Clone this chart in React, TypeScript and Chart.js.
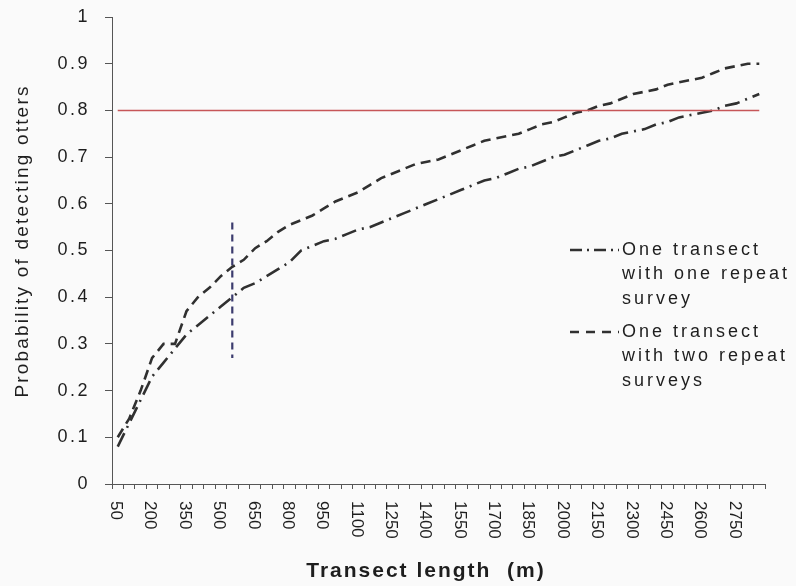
import React, { useEffect, useRef } from 'react';
import { Chart, registerables } from 'chart.js';

Chart.register(...registerables);

// Transect lengths (m) – categories
const lengths = [
  '50', '100', '150', '200', '250', '300', '350', '400', '450', '500',
  '550', '600', '650', '700', '750', '800', '850', '900', '950', '1000',
  '1050', '1100', '1150', '1200', '1250', '1300', '1350', '1400', '1450', '1500',
  '1550', '1600', '1650', '1700', '1750', '1800', '1850', '1900', '1950', '2000',
  '2050', '2100', '2150', '2200', '2250', '2300', '2350', '2400', '2450', '2500',
  '2550', '2600', '2650', '2700', '2750', '2800', '2850',
];

// One transect with one repeat survey (dash-dot)
const oneRepeat = [
  0.08, 0.13, 0.18, 0.23, 0.26, 0.29, 0.32, 0.34, 0.36, 0.38,
  0.40, 0.42, 0.43, 0.445, 0.46, 0.475, 0.50, 0.51, 0.52, 0.525,
  0.535, 0.545, 0.55, 0.56, 0.57, 0.58, 0.59, 0.60, 0.61, 0.62,
  0.63, 0.64, 0.65, 0.655, 0.665, 0.675, 0.68, 0.69, 0.70, 0.705,
  0.715, 0.725, 0.735, 0.74, 0.75, 0.755, 0.76, 0.77, 0.775, 0.785,
  0.79, 0.795, 0.80, 0.81, 0.815, 0.825, 0.835,
];

// One transect with two repeat surveys (dashed)
const twoRepeats = [
  0.10, 0.14, 0.20, 0.27, 0.30, 0.30, 0.37, 0.40, 0.42, 0.445,
  0.465, 0.48, 0.505, 0.52, 0.54, 0.555, 0.565, 0.575, 0.59, 0.605,
  0.615, 0.625, 0.64, 0.655, 0.665, 0.675, 0.685, 0.69, 0.695, 0.705,
  0.715, 0.725, 0.735, 0.74, 0.745, 0.75, 0.76, 0.77, 0.775, 0.785,
  0.795, 0.80, 0.81, 0.815, 0.825, 0.835, 0.84, 0.845, 0.855, 0.86,
  0.865, 0.87, 0.88, 0.89, 0.895, 0.90, 0.90,
];

const threshold = 0.8;
const markerLength = '550';
const markerRange = [0.27, 0.56];

const xTickLabels = [
  '50', '200', '350', '500', '650', '800', '950', '1100', '1250', '1400',
  '1550', '1700', '1850', '2000', '2150', '2300', '2450', '2600', '2750',
];
const yTickLabels = ['0', '0.1', '0.2', '0.3', '0.4', '0.5', '0.6', '0.7', '0.8', '0.9', '1'];

const xTitle = 'Transect length  (m)';
const yTitle = 'Probability of detecting otters';
const legendOne = ['One transect', 'with one repeat', 'survey'];
const legendTwo = ['One transect', 'with two repeat', 'surveys'];

const DASH_DOT = [15, 6, 2, 6];
const DASHED = [10, 6];
const LINE_COLOR = '#303030';
const TEXT_COLOR = '#1e1e1e';
const FONT = '"Liberation Sans", Arial, sans-serif';

const textPlugin = {
  id: 'customText',
  beforeDraw(chart: any) {
    const { ctx, width, height } = chart;
    ctx.save();
    ctx.fillStyle = '#fafafa';
    ctx.fillRect(0, 0, width, height);
    ctx.restore();
  },
  afterDraw(chart: any) {
    const { ctx, chartArea, scales } = chart;
    const xs = scales.x;
    const ys = scales.y;
    ctx.save();
    ctx.fillStyle = TEXT_COLOR;

    // y tick labels
    ctx.font = `18px ${FONT}`;
    (ctx as any).letterSpacing = '2.5px';
    ctx.textAlign = 'right';
    ctx.textBaseline = 'middle';
    yTickLabels.forEach((l) => {
      ctx.fillText(l, 90, ys.getPixelForValue(parseFloat(l)));
    });

    // x tick labels (rotated clockwise)
    ctx.font = `17px ${FONT}`;
    (ctx as any).letterSpacing = '0px';
    xTickLabels.forEach((l) => {
      const px = xs.getPixelForValue(lengths.indexOf(l));
      ctx.save();
      ctx.translate(px - 2, chartArea.bottom + 17);
      ctx.rotate(Math.PI / 2);
      ctx.textAlign = 'left';
      ctx.textBaseline = 'middle';
      ctx.fillText(l, 0, 0);
      ctx.restore();
    });

    // x title
    ctx.font = `bold 21px ${FONT}`;
    (ctx as any).letterSpacing = '2px';
    ctx.textAlign = 'center';
    ctx.textBaseline = 'middle';
    ctx.fillText(xTitle, 426, 571);

    // y title
    ctx.save();
    ctx.font = `19px ${FONT}`;
    (ctx as any).letterSpacing = '2.2px';
    ctx.translate(23, 241);
    ctx.rotate(-Math.PI / 2);
    ctx.textAlign = 'center';
    ctx.textBaseline = 'middle';
    ctx.fillText(yTitle, 0, 0);
    ctx.restore();

    // legend
    const drawEntry = (lines: string[], top: number, dash: number[]) => {
      ctx.save();
      ctx.strokeStyle = LINE_COLOR;
      ctx.lineWidth = 2.5;
      ctx.setLineDash(dash);
      ctx.beginPath();
      ctx.moveTo(570, top);
      ctx.lineTo(619, top);
      ctx.stroke();
      ctx.restore();
      ctx.font = `18px ${FONT}`;
      (ctx as any).letterSpacing = '3px';
      ctx.textAlign = 'left';
      ctx.textBaseline = 'middle';
      lines.forEach((t, i) => ctx.fillText(t, 622, top + i * 24.5));
    };
    drawEntry(legendOne, 250, [12, 5, 2, 5]);
    drawEntry(legendTwo, 332, [9, 7]);

    ctx.restore();
  },
};

export default function App() {
  const canvasRef = useRef<HTMLCanvasElement | null>(null);

  useEffect(() => {
    const canvas = canvasRef.current;
    if (!canvas) return;
    const chart = new Chart(canvas, {
      type: 'line',
      data: {
        labels: lengths,
        datasets: [
          {
            label: 'threshold',
            data: lengths.map(() => threshold),
            borderColor: '#c65658',
            borderWidth: 1.5,
            pointRadius: 0,
            fill: false,
          },
          {
            label: 'One transect with one repeat survey',
            data: oneRepeat,
            borderColor: LINE_COLOR,
            borderWidth: 2.6,
            borderDash: DASH_DOT,
            pointRadius: 0,
            tension: 0,
            fill: false,
          },
          {
            label: 'One transect with two repeat surveys',
            data: twoRepeats,
            borderColor: LINE_COLOR,
            borderWidth: 2.6,
            borderDash: DASHED,
            pointRadius: 0,
            tension: 0,
            fill: false,
          },
          {
            label: 'marker',
            data: [
              { x: markerLength, y: markerRange[1] },
              { x: markerLength, y: markerRange[0] },
            ] as any,
            borderColor: '#3b3b6e',
            borderWidth: 2.2,
            borderDash: [7, 5],
            pointRadius: 0,
            fill: false,
          },
        ],
      },
      options: {
        animation: false,
        responsive: false,
        maintainAspectRatio: false,
        layout: { padding: { left: 0, right: 31, top: 17, bottom: 0 } },
        plugins: {
          legend: { display: false },
          tooltip: { enabled: false },
          title: { display: false },
        },
        scales: {
          x: {
            type: 'category',
            offset: true,
            ticks: { display: false, autoSkip: false },
            grid: {
              display: true,
              drawOnChartArea: false,
              drawTicks: true,
              tickLength: 5,
              offset: true,
              color: '#555',
              lineWidth: 1,
            },
            border: { display: true, color: '#555', width: 1 },
            afterFit: (s: any) => {
              s.height = 102;
            },
          },
          y: {
            type: 'linear',
            min: 0,
            max: 1,
            ticks: { display: false, stepSize: 0.1 },
            grid: {
              display: true,
              drawOnChartArea: false,
              drawTicks: true,
              tickLength: 7,
              color: '#555',
              lineWidth: 1,
            },
            border: { display: true, color: '#555', width: 1 },
            afterFit: (s: any) => {
              s.width = 112;
            },
          },
        },
      },
      plugins: [textPlugin],
    });
    return () => chart.destroy();
  }, []);

  return (
    <div style={{ position: 'fixed', left: 0, top: 0, width: 796, height: 586, background: '#fafafa' }}>
      <canvas ref={canvasRef} width={796} height={586} style={{ display: 'block', width: 796, height: 586 }} />
    </div>
  );
}
